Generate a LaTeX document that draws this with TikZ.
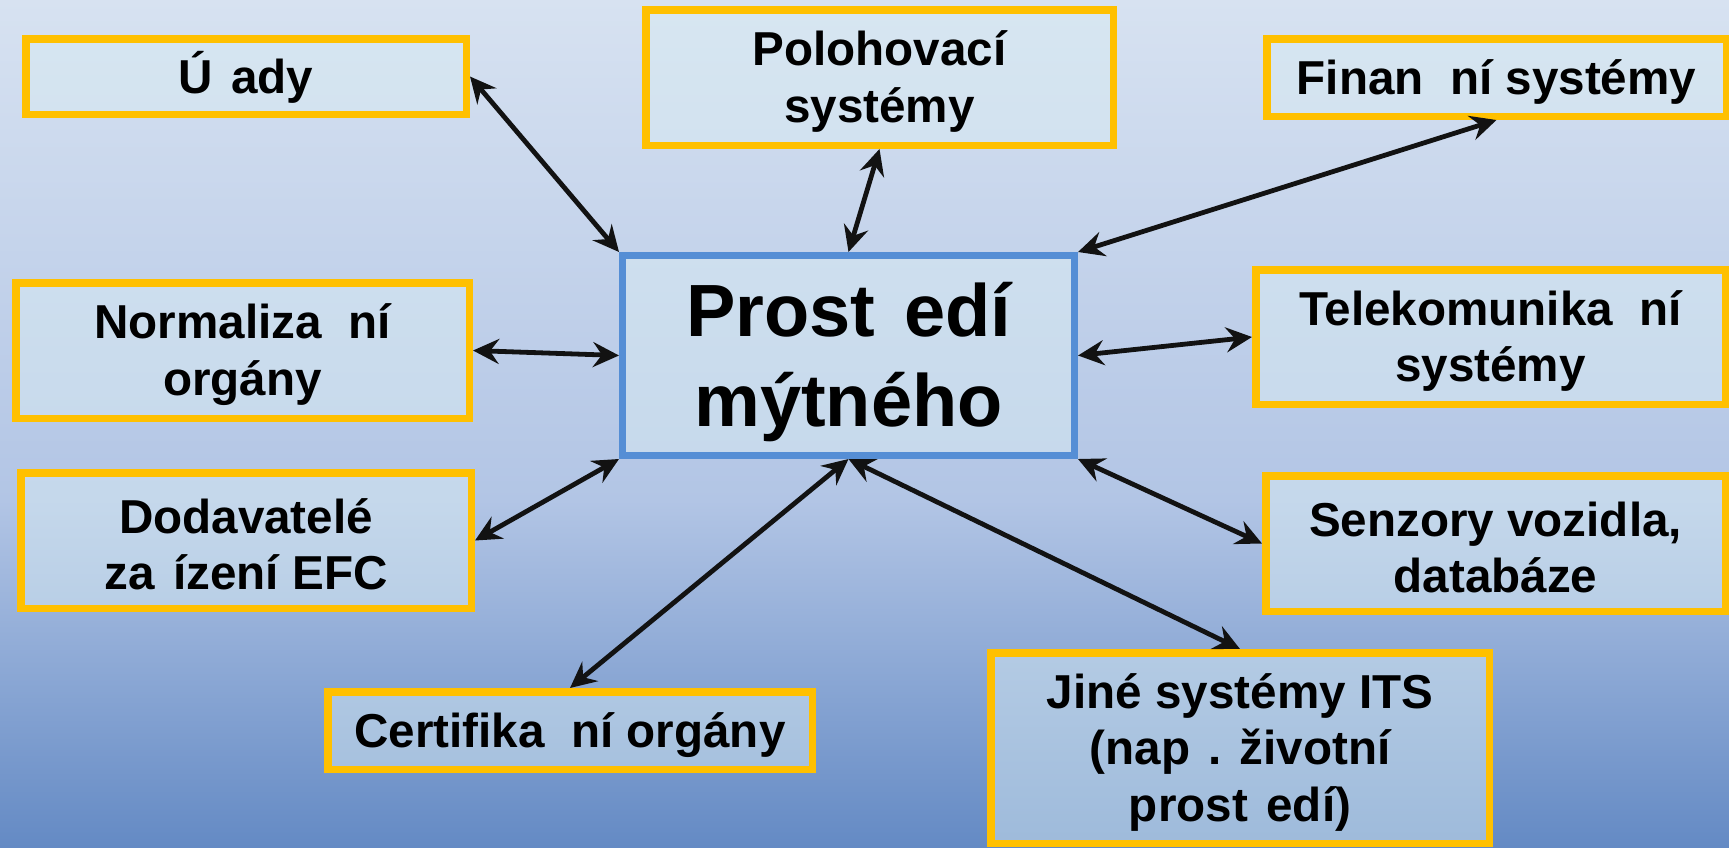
\documentclass[tikz,border=0pt]{standalone}
\usepackage{fontspec}
\setmainfont{Liberation Sans}
\usetikzlibrary{arrows.meta}
\definecolor{bgtop}{RGB}{215,226,241}
\definecolor{bgmid}{RGB}{178,197,229}
\definecolor{bgbot}{RGB}{100,138,196}
\definecolor{boxfill}{RGB}{216,235,242}
\definecolor{gold}{RGB}{255,192,0}
\definecolor{cblue}{RGB}{85,142,213}
\newcommand\lstrut{\rule[-0.03em]{0pt}{0.935em}}
\newcommand\cstrut{\rule[-0.105em]{0pt}{1.01em}}
\begin{document}
\begin{tikzpicture}[x=1pt,y=-1pt,
  sbox/.style={draw=gold, line width=7.5pt, fill=boxfill, fill opacity=0.5,
    text opacity=1, inner sep=0pt, align=center,
    font=\bfseries\fontsize{47.6}{56.5}\selectfont},
  cbox/.style={draw=cblue, line width=7pt, fill=boxfill, fill opacity=0.5,
    text opacity=1, inner sep=0pt, align=center,
    font=\bfseries\fontsize{74}{90}\selectfont},
  link/.style={line width=4.8pt, black!93,
    {Stealth[length=26pt,width=25pt,inset=9pt]}-{Stealth[length=26pt,width=25pt,inset=9pt]}}
]
\useasboundingbox (0,0) rectangle (1729,847);
\clip (0,0) rectangle (1729,847);
\shade[top color=bgtop, bottom color=bgmid] (0,0) rectangle (1729,501);
\shade[top color=bgmid, bottom color=bgbot] (0,500) rectangle (1729,847);

\node[cbox, minimum width=452pt, minimum height=200pt] (c) at (848.5,355.5)
  {\cstrut Prost\phantom{ř}edí\\\cstrut mýtného};

\node[sbox, minimum width=440.5pt, minimum height=75.5pt] (ur) at (246,76.5)
  {\lstrut Ú\phantom{ř}ady};
\node[sbox, minimum width=467.5pt, minimum height=135.5pt] (pol) at (879.5,77.5)
  {\lstrut Polohovací\\\lstrut systémy};
\node[sbox, minimum width=459.5pt, minimum height=77.5pt] (fin) at (1496.5,77.5)
  {\lstrut Finan\phantom{č}ní systémy};
\node[sbox, minimum width=453.5pt, minimum height=135.5pt] (norm) at (242.5,350.5)
  {\lstrut Normaliza\phantom{č}ní\\\lstrut orgány};
\node[sbox, minimum width=469.5pt, minimum height=134.5pt] (tel) at (1490.5,337)
  {\lstrut Telekomunika\phantom{č}ní\\\lstrut systémy};
\node[sbox, minimum width=450.5pt, minimum height=135.5pt] (dod) at (246,540.5)
  {\lstrut Dodavatelé\\\lstrut za\phantom{ř}ízení EFC};
\node[sbox, minimum width=459.5pt, minimum height=135.5pt] (sen) at (1495.5,543.5)
  {\lstrut Senzory vozidla,\\\lstrut databáze};
\node[sbox, minimum width=484.5pt, minimum height=77.5pt] (cert) at (570,730.5)
  {\lstrut Certifika\phantom{č}ní orgány};
\node[sbox, minimum width=498.5pt, minimum height=190.5pt] (jine) at (1240,748)
  {\lstrut Jiné systémy ITS\\\lstrut (nap\phantom{ř}. životní\\\lstrut prost\phantom{ř}edí)};

\draw[link] (ur.east) -- (c.north west);
\draw[link] (pol.south) -- (c.north);
\draw[link] (fin.south) -- (c.north east);
\draw[link] (norm.east) -- (c.west);
\draw[link] (tel.west) -- (c.east);
\draw[link] (dod.east) -- (c.south west);
\draw[link] (sen.west) -- (c.south east);
\draw[link] (cert.north) -- (c.south);
\draw[link] (jine.north) -- (c.south);
\end{tikzpicture}
\end{document}
